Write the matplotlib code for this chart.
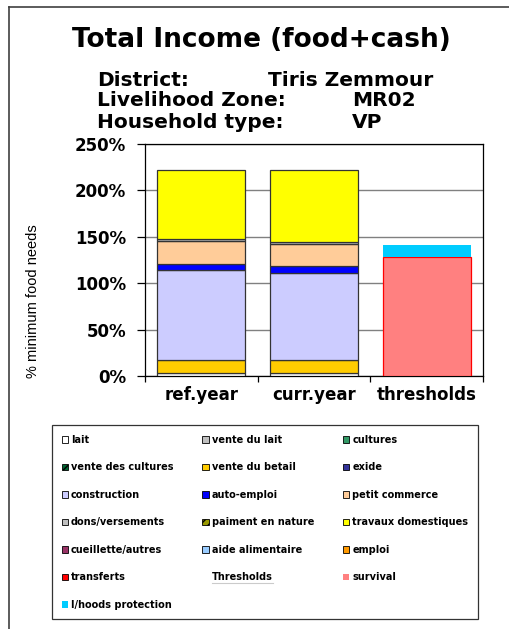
import matplotlib
matplotlib.use("Agg")
from matplotlib import pyplot as plt
from matplotlib.patches import Rectangle
from matplotlib.lines import Line2D
import numpy as np

categories = ["ref.year", "curr.year", "thresholds"]

# income sources (% of minimum food needs) for ref.year, curr.year
sources = ["lait", "vente du lait", "cultures", "vente des cultures", "vente du betail",
           "exide", "construction", "auto-emploi", "petit commerce", "dons/versements",
           "paiment en nature", "travaux domestiques", "cueillette/autres",
           "aide alimentaire", "emploi", "transferts"]
ref_year = [2.9, 0, 0, 0, 14.1, 0, 96.7, 6.9, 24.8, 1.8, 0, 74.5, 0, 0, 0, 0]
curr_year = [2.9, 0, 0, 0, 14.1, 0, 93.9, 7.1, 24.2, 2.2, 0, 78.1, 0, 0, 0, 0]
source_colors = ["#FFFFFF", "#C0C0C0", "#339966", "#006633", "#FFCC00",
                 "#333399", "#CCCCFF", "#0000FF", "#FFCC99", "#C0C0C0",
                 "#999900", "#FFFF00", "#993366", "#99CCFF", "#FF9900", "#FF0000"]
source_hatch = {"vente des cultures": "////", "paiment en nature": "////"}

thresholds = ["survival", "l/hoods protection"]
threshold_vals = [128.5, 12.2]
threshold_colors = ["#FF8080", "#00CCFF"]
threshold_edges = ["#FF0000", "none"]

yticks = [0, 50, 100, 150, 200, 250]

W, H = 509, 629
fig = plt.figure(figsize=(W / 100, H / 100), dpi=100)
fig.patch.set_facecolor("white")

ax = fig.add_axes([145 / W, 1 - 376 / H, 338 / W, 232 / H])
x = np.arange(len(categories))
bw = 0.78

for i, vals in enumerate([ref_year, curr_year]):
    bottom = 0
    for name, v, c in zip(sources, vals, source_colors):
        if v > 0:
            ax.bar(x[i], v, bw, bottom=bottom, color=c, edgecolor="#333333",
                   linewidth=0.9, hatch=source_hatch.get(name), zorder=3)
        bottom += v

bottom = 0
for v, c, e in zip(threshold_vals, threshold_colors, threshold_edges):
    ax.bar(x[2], v, bw, bottom=bottom, color=c, edgecolor=e, linewidth=0.9, zorder=3)
    bottom += v

ax.set_xlim(-0.5, 2.5)
ax.set_ylim(0, 250)
ax.set_yticks(yticks)
ax.set_yticklabels([f"{t}%" for t in yticks], fontsize=12, fontweight="bold",
                   family="DejaVu Sans")
ax.set_xticks(x)
ax.set_xticklabels(categories, fontsize=12, fontweight="bold", family="DejaVu Sans")
ax.set_xticks([-0.5, 0.5, 1.5, 2.5], minor=True)
ax.tick_params(axis="x", which="major", length=0, pad=7)
ax.tick_params(axis="x", which="minor", length=4, direction="out", width=0.9)
ax.tick_params(axis="y", length=5.5, direction="out", width=0.9, pad=8)
ax.yaxis.grid(True, color="#808080", linewidth=1.0, zorder=0)
for s in ax.spines.values():
    s.set_color("black")
    s.set_linewidth(0.9)

fig.text(33 / W, 1 - 301 / H, "% minimum food needs", rotation=90, ha="center",
         va="center", fontsize=10.5, family=["Liberation Sans Narrow", "Liberation Sans"])

fig.text(261 / W, 1 - 40 / H, "Total Income (food+cash)", ha="center", va="center",
         fontsize=19, fontweight="bold", family="DejaVu Sans")
sub = dict(fontsize=14.5, fontweight="bold", family="DejaVu Sans", va="center")
fig.text(97 / W, 1 - 80 / H, "District:", **sub)
fig.text(268 / W, 1 - 80 / H, "Tiris Zemmour", **sub)
fig.text(97 / W, 1 - 101 / H, "Livelihood Zone:", **sub)
fig.text(352 / W, 1 - 101 / H, "MR02", **sub)
fig.text(97 / W, 1 - 123 / H, "Household type:", **sub)
fig.text(352 / W, 1 - 123 / H, "VP", **sub)

# outer chart frame (top and left visible)
fig.add_artist(Line2D([9 / W, 1.0], [1 - 7 / H, 1 - 7 / H], color="#404040", lw=1.2))
fig.add_artist(Line2D([9 / W, 9 / W], [0, 1 - 7 / H], color="#404040", lw=1.2))

# legend, laid out row-wise in the original (3 columns)
entries = []
for name, c in zip(sources, source_colors):
    entries.append(Rectangle((0, 0), 1, 1, facecolor=c, edgecolor="black", lw=0.6,
                             hatch=source_hatch.get(name)))
labels = list(sources)
entries.append(Rectangle((0, 0), 1, 1, facecolor="none", edgecolor="none"))
labels.append("Thresholds")
for c in threshold_colors:
    entries.append(Rectangle((0, 0), 1, 1, facecolor=c, edgecolor="none"))
labels += thresholds

ncol = 3
nrow = int(np.ceil(len(labels) / ncol))
order = []
for col in range(ncol):
    for row in range(nrow):
        k = row * ncol + col
        if k < len(labels):
            order.append(k)

leg = fig.legend([entries[k] for k in order], [labels[k] for k in order],
                 loc="upper left", ncol=ncol, mode="expand",
                 bbox_to_anchor=(52 / W, 1 - 617 / H, 426 / W, 192 / H),
                 prop={"family": "DejaVu Sans", "weight": "bold", "size": 7},
                 frameon=True, fancybox=False, edgecolor="black",
                 handlelength=0.65, handleheight=0.65, handletextpad=0.3,
                 labelspacing=1.8, borderpad=1.0, borderaxespad=0)
leg.get_frame().set_linewidth(0.9)

fig.canvas.draw()
for t in leg.get_texts():
    if t.get_text() == "Thresholds":
        bb = t.get_window_extent().transformed(fig.transFigure.inverted())
        fig.add_artist(Line2D([bb.x0, bb.x1], [bb.y0 - 0.001, bb.y0 - 0.001],
                              color="black", lw=0.8))

fig.savefig("out.png", dpi=100)
